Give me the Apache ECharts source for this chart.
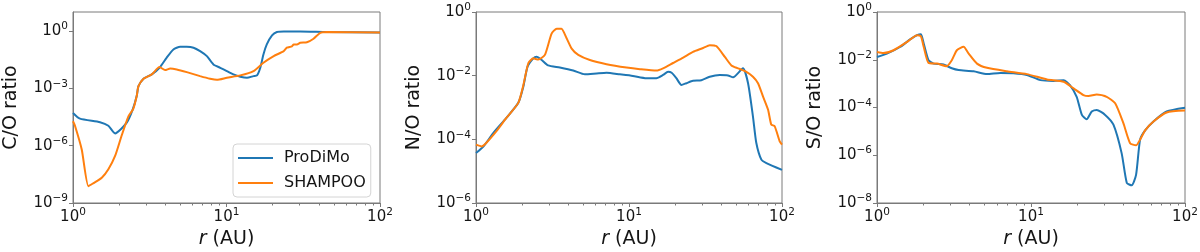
<!DOCTYPE html>
<html><head><meta charset="utf-8">
<script src="https://cdn.jsdelivr.net/npm/echarts@6/dist/echarts.min.js"></script>
<style>html,body{margin:0;padding:0;background:#fff}#c{width:1200px;height:252px}</style>
</head><body><div id="c"></div>
<script>
// ---------- data (r in AU, ratios) ----------
const seriesNames = ['ProDiMo', 'SHAMPOO'];
const panelTitles = ['C/O ratio', 'N/O ratio', 'S/O ratio'];
const xTickExps = [0, 1, 2];
const yTickExps = [[-9, -6, -3, 0], [-6, -4, -2, 0], [-8, -6, -4, -2, 0]];
const yRangeExps = [[-9, 1], [-6, 0], [-8, 0]];

// C/O
const rCO_pro = [1.00,1.11,1.50,1.70,1.88,2.24,2.45,2.60,2.67,2.88,3.26,3.66,4.07,4.51,4.99,5.51,6.10,6.73,7.45,8.22,9.10,10.05,11.1,12.3,13.6,15.0,15.8,16.6,17.4,18.3,19.8,21.3,23.6,30.2,45.1,100];
const CO_pro  = [5.2e-5,2.6e-5,1.7e-5,1.1e-5,4.4e-6,1.6e-5,7.9e-5,4.0e-4,1.3e-3,3.2e-3,5.4e-3,1.2e-2,4.0e-2,0.11,0.15,0.15,0.135,0.089,0.049,0.018,0.012,8.1e-3,5.4e-3,4.1e-3,3.6e-3,4.4e-3,4.8e-3,0.012,0.060,0.20,0.59,0.89,0.95,0.95,0.89,0.85];
const rCO_sha = [1.00,1.03,1.14,1.26,1.36,1.54,1.70,1.88,2.07,2.30,2.47,2.60,2.67,2.88,3.26,3.66,3.98,4.30,4.74,5.51,6.73,7.82,8.65,10.05,12.3,15.0,17.4,20.3,23.6,24.7,26.7,27.4,28.8,30.2,33.4,36.9,40.8,45.1,100];
const CO_sha  = [1.9e-5,1.1e-5,6.3e-7,7.6e-9,1.1e-8,2.1e-8,5.8e-8,2.9e-7,3.2e-6,3.5e-5,8.5e-5,4.0e-4,1.3e-3,3.2e-3,5.4e-3,0.013,9.1e-3,0.011,9.8e-3,7.1e-3,4.4e-3,3.2e-3,2.8e-3,3.6e-3,4.8e-3,8.1e-3,0.022,0.049,0.089,0.135,0.16,0.20,0.20,0.245,0.26,0.40,0.81,0.89,0.85];

// N/O
const rNO_pro = [1.00,1.12,1.30,1.58,1.89,2.04,2.17,2.37,2.49,2.69,2.96,3.53,4.32,5.15,6.14,7.13,8.71,10.6,13.0,15.1,16.7,18.0,19.0,20.4,22.0,23.7,26.2,29.7,33.7,39.2,44.4,47.9,55.6,60.0,64.6,67.9,73.3,79.1,100];
const NO_pro  = [3.7e-5,6.0e-5,1.6e-4,4.7e-4,1.4e-3,4.6e-3,0.019,0.035,0.039,0.031,0.021,0.018,0.0145,0.011,0.0117,0.0123,0.011,9.8e-3,8.3e-3,8.3e-3,0.0105,0.0132,0.0123,8.3e-3,5.1e-3,5.8e-3,6.9e-3,7.2e-3,9.3e-3,0.0105,0.0102,8.9e-3,0.017,5.8e-3,5.2e-4,7.8e-5,2.3e-5,1.8e-5,1.1e-5];
const rNO_sha = [1.00,1.09,1.17,1.36,1.58,1.89,2.04,2.20,2.37,2.55,2.82,3.12,3.37,3.62,3.91,4.22,4.66,5.55,7.13,9.64,11.8,15.1,16.7,19.4,22.6,26.2,30.5,33.7,37.2,42.3,46.7,51.6,58.5,64.6,69.7,75.2,81.1,85.1,89.5,96.6,100];
const NO_sha  = [6.8e-5,6.0e-5,7.8e-5,1.8e-4,4.7e-4,1.4e-3,5.1e-3,0.025,0.035,0.032,0.045,0.21,0.30,0.30,0.15,0.071,0.045,0.031,0.023,0.018,0.016,0.0145,0.017,0.025,0.037,0.056,0.074,0.091,0.085,0.039,0.021,0.017,0.0132,9.3e-3,5.8e-3,2.2e-3,8.5e-4,2.9e-4,2.6e-4,8.7e-5,6.8e-5];

// S/O
const rSO_pro = [1.00,1.16,1.42,1.64,1.82,1.93,2.01,2.16,2.33,2.70,3.06,3.39,4.24,5.18,6.31,7.69,9.40,11.5,14.0,16.3,17.9,19.8,21.4,23.0,24.8,26.7,30.3,34.3,38.8,41.9,45.1,48.1,51.1,55.1,62.4,76.0,100];
const SO_pro  = [0.013,0.018,0.035,0.071,0.107,0.117,0.048,9.5e-3,6.9e-3,6.3e-3,4.4e-3,3.7e-3,3.3e-3,2.5e-3,2.8e-3,2.7e-3,2.3e-3,1.4e-3,1.3e-3,1.4e-3,8.7e-4,2.8e-4,4.9e-5,3.2e-5,6.8e-5,7.9e-5,4.9e-5,1.9e-5,1.2e-6,6.9e-8,5.5e-8,1.5e-7,4.5e-6,1.1e-5,2.6e-5,6.8e-5,9.8e-5];
const rSO_sha = [1.00,1.10,1.28,1.57,1.82,1.93,2.01,2.16,2.45,2.84,3.06,3.30,3.65,3.94,4.46,5.18,6.97,9.40,12.7,16.3,18.9,21.9,23.6,26.7,31.0,35.2,39.8,44.0,48.1,51.1,55.1,62.4,76.0,100];
const SO_sha  = [0.021,0.019,0.025,0.056,0.107,0.095,0.035,7.4e-3,6.9e-3,5.4e-3,9.5e-3,0.025,0.035,0.018,6.9e-3,4.6e-3,3.3e-3,2.5e-3,1.5e-3,1.2e-3,6.3e-4,3.3e-4,3.0e-4,3.5e-4,2.8e-4,1.5e-4,2.2e-5,3.2e-6,2.6e-6,4.5e-6,1.1e-5,2.6e-5,6.2e-5,7.4e-5];

const minorR = [2,3,4,5,6,7,8,9,20,30,40,50,60,70,80,90];

// ---------- chart ----------
const FONT = 'DejaVu Sans';
const AX = '#7a7a7a';
const TXT = '#151515';
const colors = ['#1f77b4', '#ff7f0e'];
const panels = [
  [[rCO_pro, CO_pro], [rCO_sha, CO_sha]],
  [[rNO_pro, NO_pro], [rNO_sha, NO_sha]],
  [[rSO_pro, SO_pro], [rSO_sha, SO_sha]]
];
const gridBoxes = [[73, 307], [476, 306], [877, 308]];

const lg = v => Math.log10(v);
const powLabel = v => {
  const e = Math.round(v);
  return '{b|10}{s|' + (e < 0 ? '\u2212' + (-e) : String(e)) + '}';
};
const richPow = {
  b: { fontSize: 15, fontFamily: FONT, color: TXT, lineHeight: 20, verticalAlign: 'middle' },
  s: { fontSize: 10.5, fontFamily: FONT, color: TXT, lineHeight: 11, verticalAlign: 'top' }
};

const grid = [], xAxis = [], yAxis = [], series = [];
gridBoxes.forEach(([left, width], i) => {
  grid.push({ left, width, top: 12, height: 191, show: true, borderColor: AX, borderWidth: 1,
              backgroundColor: 'transparent', containLabel: false, outerBoundsMode: 'none' });
  xAxis.push({
    type: 'value', gridIndex: i, min: 0, max: 2, interval: 1, position: 'bottom',
    axisLine: { show: true, onZero: false, lineStyle: { color: AX, width: 1 } },
    axisTick: { show: true, length: 4, lineStyle: { color: AX }, customValues: xTickExps },
    axisLabel: { margin: 4, formatter: powLabel, rich: richPow, customValues: xTickExps },
    splitLine: { show: false },
    name: '{i|r} (AU)', nameLocation: 'middle', nameGap: 19,
    nameTextStyle: { fontSize: 19, fontFamily: FONT, color: TXT,
      rich: { i: { fontSize: 19, fontFamily: FONT, fontStyle: 'italic', color: TXT } } }
  });
  xAxis.push({
    type: 'value', gridIndex: i, min: 0, max: 2, position: 'bottom',
    axisLine: { show: false, onZero: false },
    axisTick: { show: true, length: 2.5, lineStyle: { color: AX }, customValues: minorR.map(lg) },
    axisLabel: { show: false },
    splitLine: { show: false }
  });
  yAxis.push({
    type: 'value', gridIndex: i, min: yRangeExps[i][0], max: yRangeExps[i][1], position: 'left',
    axisLine: { show: true, onZero: false, lineStyle: { color: AX, width: 1 } },
    axisTick: { show: true, length: 4, lineStyle: { color: AX }, customValues: yTickExps[i] },
    axisLabel: { margin: 5, formatter: powLabel, rich: richPow, customValues: yTickExps[i] },
    splitLine: { show: false },
    name: panelTitles[i], nameLocation: 'middle', nameGap: 52,
    nameTextStyle: { fontSize: 19, fontFamily: FONT, color: TXT }
  });
  panels[i].forEach(([rs, vs], k) => {
    series.push({
      type: 'line', name: seriesNames[k], xAxisIndex: 2 * i, yAxisIndex: i,
      data: rs.map((r, j) => [lg(r), lg(vs[j])]),
      symbol: 'none', showSymbol: false, smooth: 0.2, clip: true,
      color: colors[k], lineStyle: { width: 2, color: colors[k] }, z: 2 + k
    });
  });
});

const chart = echarts.init(document.getElementById('c'), null, { renderer: 'canvas' });
chart.setOption({
  animation: false,
  backgroundColor: '#fff',
  grid, xAxis, yAxis, series,
  legend: {
    data: seriesNames, orient: 'vertical', left: 233, top: 144,
    icon: 'rect', itemWidth: 35, itemHeight: 2, itemGap: 9,
    padding: [6, 5, 6, 5],
    backgroundColor: 'rgba(255,255,255,0.85)', borderColor: '#d4d4d4', borderWidth: 1, borderRadius: 4,
    textStyle: { fontSize: 16, lineHeight: 14, fontFamily: FONT, color: TXT, padding: [0, 0, 0, 6] }
  }
});
</script></body></html>
